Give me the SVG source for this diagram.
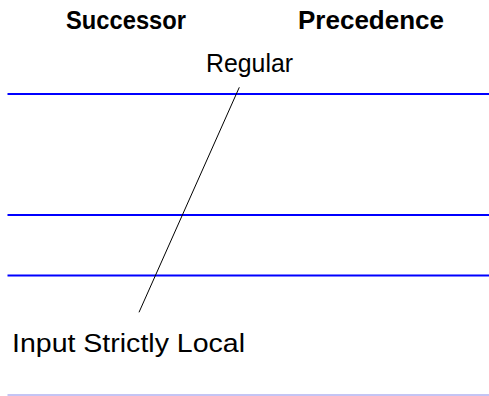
<svg xmlns="http://www.w3.org/2000/svg" width="489" height="396" viewBox="0 0 489 396">
  <style>
    .head { font-family: "Liberation Sans", Arial, sans-serif; font-weight: bold; font-size: 26px; fill: #000; }
    .label { font-family: "Liberation Sans", Arial, sans-serif; font-size: 26px; fill: #000; }
    .band { stroke: #0000ff; stroke-width: 2; fill: none; }
    .link { stroke: #000; stroke-width: 1; fill: none; }
  </style>
  <rect width="489" height="396" fill="#ffffff"/>
  <!-- column headings -->
  <g id="headings">
    <text class="head" x="66" y="28.5" textLength="120" lengthAdjust="spacingAndGlyphs">Successor</text>
    <text class="head" x="298" y="28.5" textLength="146" lengthAdjust="spacingAndGlyphs">Precedence</text>
  </g>
  <!-- horizontal band lines -->
  <g id="bands">
    <line class="band" x1="7.5" y1="94" x2="489" y2="94"/>
    <line class="band" x1="7.5" y1="215" x2="489" y2="215"/>
    <line class="band" x1="7.5" y1="275.5" x2="489" y2="275.5"/>
    <line x1="7.5" y1="395" x2="489" y2="395" stroke="#b0b0f0" stroke-width="1.4"/>
  </g>
  <g id="regular">
    <text class="label" x="206" y="72" textLength="87" lengthAdjust="spacingAndGlyphs">Regular</text>
  </g>
  <g id="isl">
    <text class="label" x="12" y="352" textLength="233" lengthAdjust="spacingAndGlyphs">Input Strictly Local</text>
  </g>
  <g id="connectors">
    <line class="link" x1="239.3" y1="87.3" x2="139" y2="312.3"/>
  </g>
</svg>
